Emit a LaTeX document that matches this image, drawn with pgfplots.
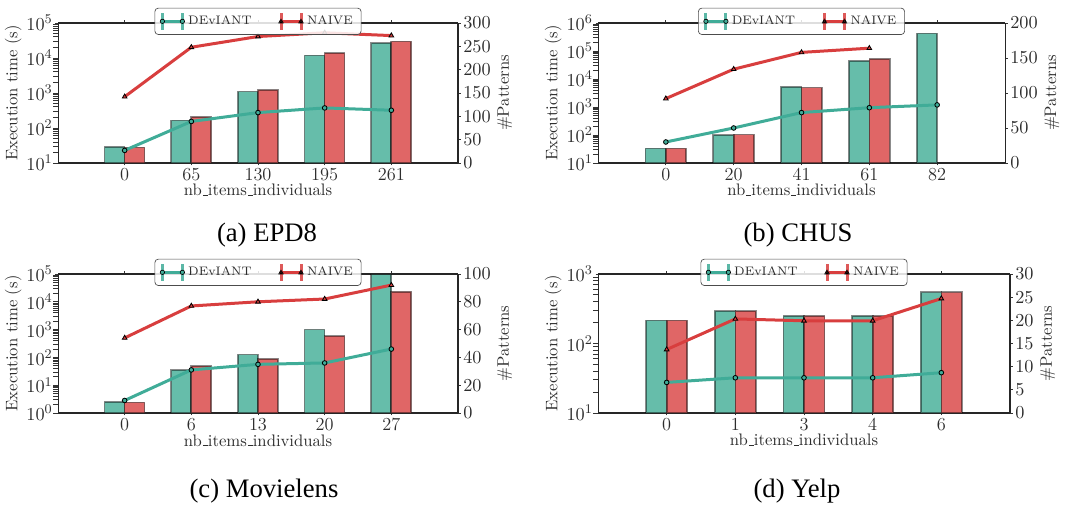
\documentclass[border=0pt]{standalone}
\usepackage{fontspec}
\newfontfamily\timesfont{Liberation Serif}
\usepackage{pgfplots}
\pgfplotsset{compat=1.18}
\renewcommand{\_}{\leavevmode\kern.06em\vbox{\hrule width.3em}}

\definecolor{barteal}{RGB}{102,189,170}
\definecolor{barred}{RGB}{224,102,102}
\definecolor{lteal}{RGB}{64,172,152}
\definecolor{lred}{RGB}{216,62,62}
\definecolor{txt}{RGB}{45,45,45}

\pgfplotsset{
  mycommon/.style={
    scale only axis,
    xmin=-1, xmax=5,
    tick align=outside,
    every axis label/.append style={font=\fontsize{10}{12}\selectfont, text=txt},
    tick label style={font=\fontsize{11}{13}\selectfont, text=txt, inner sep=1.5pt},
    major tick length=1.5pt,
    minor tick num=0,
    tick style={black!80, line width=0.5pt},
  },
  myleft/.style={
    mycommon,
    separate axis lines,
    x axis line style={black!85, line width=1.1pt},
    y axis line style={black!85, line width=0.6pt},
    xtick={0,1,2,3,4},
    ytick pos=left,
    ylabel={Execution time (s)},
    xlabel={nb\_items\_individuals},
    xlabel style={yshift=3pt},
    ylabel style={yshift=-2pt},
  },
  myright/.style={
    mycommon,
    axis x line=none,
    axis y line*=right,
    axis line style={black!85, line width=0.6pt},
    ylabel={\#Patterns},
    ylabel style={yshift=1pt},
    legend columns=2,
    legend style={at={(0.5,1)}, anchor=center, yshift=1pt,
      draw=black!70, rounded corners=2pt, fill=white, fill opacity=0.85,
      text opacity=1, draw opacity=1, inner ysep=2pt,
      font=\fontsize{7.4}{9}\selectfont, text=txt,
      /tikz/every even column/.append style={column sep=14pt}},
  },
  gbar/.style={ybar, bar width=0.3, bar shift=-0.15, fill=barteal, draw=black, draw opacity=0.45, line width=1pt, forget plot},
  rbar/.style={ybar, bar width=0.3, bar shift=0.15, fill=barred, draw=black, draw opacity=0.45, line width=1pt, forget plot},
  tline/.style={lteal, line width=1.8pt, mark=*, mark size=1.4pt,
    mark options={fill=lteal, draw=black, line width=0.5pt},
    legend image code/.code={
      \draw[lteal, line width=1.8pt] (0pt,0pt) -- (12pt,0pt);
      \draw[lteal, line width=1.8pt, opacity=0.85] (0pt,-5pt) -- (0pt,5pt) (12pt,-5pt) -- (12pt,5pt);
      \draw[black, fill=lteal, line width=0.4pt] (0pt,0pt) circle (1.3pt) (12pt,0pt) circle (1.3pt);
    }},
  rline/.style={lred, line width=1.8pt, mark=triangle*, mark size=1.6pt,
    mark options={fill=lred, draw=black, line width=0.5pt},
    legend image code/.code={
      \draw[lred, line width=1.8pt] (0pt,0pt) -- (12pt,0pt);
      \draw[lred, line width=1.8pt, opacity=0.85] (0pt,-5pt) -- (0pt,5pt) (12pt,-5pt) -- (12pt,5pt);
      \draw[black, fill=lred, line width=0.4pt] (-1.4pt,-1pt) -- (1.4pt,-1pt) -- (0pt,1.4pt) -- cycle;
      \draw[black, fill=lred, line width=0.4pt] (10.6pt,-1pt) -- (13.4pt,-1pt) -- (12pt,1.4pt) -- cycle;
    }},
}
\newcommand\capfont{\timesfont\fontsize{16}{18}\selectfont}

\begin{document}
\begin{tikzpicture}
\path[use as bounding box] (0,0) rectangle (639.6pt,304.2pt);

% ---------------- (a) EPD8
\begin{axis}[myleft, ymode=log, log origin y=infty, at={(34.8pt,206.4pt)}, anchor=south west, width=240pt, height=84pt,
  ymin=10, ymax=1e5, ytick={10,100,1000,10000,100000}, xticklabels={0,65,130,195,261}]
\addplot[gbar] coordinates {(0,29) (1,164) (2,1100) (3,11800) (4,26700)};
\addplot[rbar] coordinates {(0,28) (1,209) (2,1220) (3,13700) (4,29700)};
\end{axis}
\begin{axis}[myright, at={(34.8pt,206.4pt)}, anchor=south west, width=240pt, height=84pt,
  ymin=0, ymax=300, ytick={0,50,...,300}]
\addplot[tline] coordinates {(0,27) (1,89) (2,108) (3,118) (4,113)};
\addlegendentry{DEvIANT}
\addplot[rline] coordinates {(0,142) (1,248) (2,271) (3,279) (4,273)};
\addlegendentry{NAIVE}
\end{axis}

% ---------------- (b) CHUS
\begin{axis}[myleft, ymode=log, log origin y=infty, at={(358.8pt,206.4pt)}, anchor=south west, width=244.2pt, height=84pt,
  ymin=10, ymax=1e6, ytick={10,100,1000,10000,100000,1000000}, xticklabels={0,20,41,61,82}]
\addplot[gbar] coordinates {(0,33) (1,98) (2,5200) (3,44500) (4,426000)};
\addplot[rbar] coordinates {(0,33) (1,104) (2,4900) (3,52500)};
\end{axis}
\begin{axis}[myright, at={(358.8pt,206.4pt)}, anchor=south west, width=244.2pt, height=84pt,
  ymin=0, ymax=200, ytick={0,50,...,200}]
\addplot[tline] coordinates {(0,30) (1,50) (2,72) (3,79) (4,83)};
\addlegendentry{DEvIANT}
\addplot[rline] coordinates {(0,92) (1,134) (2,158) (3,164)};
\addlegendentry{NAIVE}
\end{axis}

% ---------------- (c) Movielens
\begin{axis}[myleft, ymode=log, log origin y=infty, at={(34.8pt,56.4pt)}, anchor=south west, width=240pt, height=83.4pt,
  ymin=1, ymax=1e5, ytick={1,10,100,1000,10000,100000}, xticklabels={0,6,13,20,27}]
\addplot[gbar] coordinates {(0,2.5) (1,35) (2,127) (3,1000) (4,95000)};
\addplot[rbar] coordinates {(0,2.4) (1,49) (2,89) (3,580) (4,23000)};
\end{axis}
\begin{axis}[myright, at={(34.8pt,56.4pt)}, anchor=south west, width=240pt, height=83.4pt,
  ymin=0, ymax=100, ytick={0,20,...,100}]
\addplot[tline] coordinates {(0,9) (1,31) (2,35) (3,36) (4,46)};
\addlegendentry{DEvIANT}
\addplot[rline] coordinates {(0,54) (1,77) (2,80) (3,82) (4,92)};
\addlegendentry{NAIVE}
\end{axis}

% ---------------- (d) Yelp
\begin{axis}[myleft, ymode=log, log origin y=infty, at={(358.8pt,56.4pt)}, anchor=south west, width=247.2pt, height=83.4pt,
  ymin=10, ymax=1000, ytick={10,100,1000}, xticklabels={0,1,3,4,6}]
\addplot[gbar] coordinates {(0,215) (1,293) (2,250) (3,250) (4,545)};
\addplot[rbar] coordinates {(0,215) (1,293) (2,250) (3,250) (4,545)};
\end{axis}
\begin{axis}[myright, at={(358.8pt,56.4pt)}, anchor=south west, width=247.2pt, height=83.4pt,
  ymin=0, ymax=30, ytick={0,5,...,30}]
\addplot[tline] coordinates {(0,6.6) (1,7.6) (2,7.6) (3,7.6) (4,8.7)};
\addlegendentry{DEvIANT}
\addplot[rline] coordinates {(0,13.7) (1,20.3) (2,19.9) (3,19.9) (4,24.7)};
\addlegendentry{NAIVE}
\end{axis}

% captions
\node[font=\capfont] at (160.2pt,163.2pt) {(a) EPD8};
\node[font=\capfont] at (478.8pt,163.2pt) {(b) CHUS};
\node[font=\capfont] at (158.4pt,9.6pt) {(c) Movielens};
\node[font=\capfont] at (478.2pt,9.6pt) {(d) Yelp};
\end{tikzpicture}
\end{document}
